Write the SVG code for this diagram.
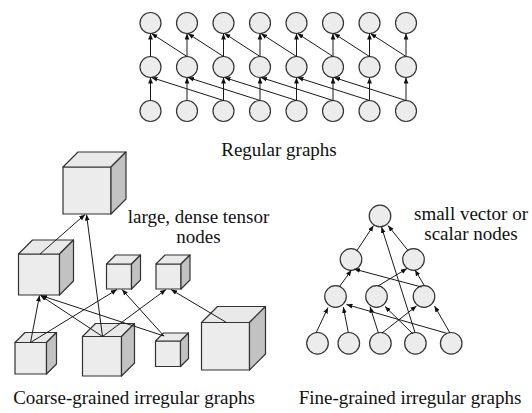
<svg xmlns="http://www.w3.org/2000/svg" width="532" height="413" viewBox="0 0 532 413">
<style>
.n{fill:#ececec;stroke:#333;stroke-width:1.2}
.front{fill:#ececec;stroke:#333;stroke-width:1.2;stroke-linejoin:round}
.top{fill:#e9e9e9;stroke:#333;stroke-width:1.2;stroke-linejoin:round}
.side{fill:#c2c2c2;stroke:#333;stroke-width:1.2;stroke-linejoin:round}
.e line{stroke:#1a1a1a;stroke-width:1;marker-end:url(#ah)}
text{font-family:"Liberation Serif","Times New Roman",serif;font-size:19px;fill:#111;text-anchor:middle}
</style>
<defs>
<marker id="ah" viewBox="0 0 10 8" refX="10" refY="4" markerWidth="6" markerHeight="5" markerUnits="userSpaceOnUse" orient="auto"><path d="M0,0 L10,4 L0,8 z" fill="#111"/></marker>
</defs>

<!-- Regular graph nodes -->
<g id="regular-nodes">
<g id="r-t0"><circle class="n" cx="150.5" cy="23" r="10.5"/></g>
<g id="r-t1"><circle class="n" cx="187" cy="23" r="10.5"/></g>
<g id="r-t2"><circle class="n" cx="223.5" cy="23" r="10.5"/></g>
<g id="r-t3"><circle class="n" cx="260" cy="23" r="10.5"/></g>
<g id="r-t4"><circle class="n" cx="296.5" cy="23" r="10.5"/></g>
<g id="r-t5"><circle class="n" cx="333" cy="23" r="10.5"/></g>
<g id="r-t6"><circle class="n" cx="369.5" cy="23" r="10.5"/></g>
<g id="r-t7"><circle class="n" cx="406" cy="23" r="10.5"/></g>
<g id="r-m0"><circle class="n" cx="150.5" cy="67" r="10.5"/></g>
<g id="r-m1"><circle class="n" cx="187" cy="67" r="10.5"/></g>
<g id="r-m2"><circle class="n" cx="223.5" cy="67" r="10.5"/></g>
<g id="r-m3"><circle class="n" cx="260" cy="67" r="10.5"/></g>
<g id="r-m4"><circle class="n" cx="296.5" cy="67" r="10.5"/></g>
<g id="r-m5"><circle class="n" cx="333" cy="67" r="10.5"/></g>
<g id="r-m6"><circle class="n" cx="369.5" cy="67" r="10.5"/></g>
<g id="r-m7"><circle class="n" cx="406" cy="67" r="10.5"/></g>
<g id="r-b0"><circle class="n" cx="150.5" cy="111" r="10.5"/></g>
<g id="r-b1"><circle class="n" cx="187" cy="111" r="10.5"/></g>
<g id="r-b2"><circle class="n" cx="223.5" cy="111" r="10.5"/></g>
<g id="r-b3"><circle class="n" cx="260" cy="111" r="10.5"/></g>
<g id="r-b4"><circle class="n" cx="296.5" cy="111" r="10.5"/></g>
<g id="r-b5"><circle class="n" cx="333" cy="111" r="10.5"/></g>
<g id="r-b6"><circle class="n" cx="369.5" cy="111" r="10.5"/></g>
<g id="r-b7"><circle class="n" cx="406" cy="111" r="10.5"/></g>
</g>

<!-- Coarse-grained cubes -->
<g id="cube-A">
<rect class="front" x="63" y="167" width="48" height="47"/>
<polygon class="top" points="63,167 78,152 126,152 111,167"/>
<polygon class="side" points="111,167 126,152 126,199 111,214"/>
</g>
<g id="cube-B">
<rect class="front" x="18.5" y="254" width="41" height="41"/>
<polygon class="top" points="18.5,254 32.5,240 73.5,240 59.5,254"/>
<polygon class="side" points="59.5,254 73.5,240 73.5,281 59.5,295"/>
</g>
<g id="cube-C">
<rect class="front" x="106.5" y="264" width="25" height="25"/>
<polygon class="top" points="106.5,264 115.5,255 140.5,255 131.5,264"/>
<polygon class="side" points="131.5,264 140.5,255 140.5,280 131.5,289"/>
</g>
<g id="cube-D">
<rect class="front" x="156" y="264" width="25" height="25"/>
<polygon class="top" points="156,264 165,255 190,255 181,264"/>
<polygon class="side" points="181,264 190,255 190,280 181,289"/>
</g>
<g id="cube-E">
<rect class="front" x="201.5" y="322.5" width="48" height="47.5"/>
<polygon class="top" points="201.5,322.5 217.5,306.5 265.5,306.5 249.5,322.5"/>
<polygon class="side" points="249.5,322.5 265.5,306.5 265.5,354 249.5,370"/>
</g>
<g id="cube-F">
<rect class="front" x="15" y="342.5" width="31.5" height="31.5"/>
<polygon class="top" points="15,342.5 25,332.5 56.5,332.5 46.5,342.5"/>
<polygon class="side" points="46.5,342.5 56.5,332.5 56.5,364 46.5,374"/>
</g>
<g id="cube-G">
<rect class="front" x="82.5" y="336.5" width="39" height="39.5"/>
<polygon class="top" points="82.5,336.5 95.5,323.5 134.5,323.5 121.5,336.5"/>
<polygon class="side" points="121.5,336.5 134.5,323.5 134.5,363 121.5,376"/>
</g>
<g id="cube-H">
<rect class="front" x="155.5" y="341" width="25" height="25.5"/>
<polygon class="top" points="155.5,341 163.5,333 188.5,333 180.5,341"/>
<polygon class="side" points="180.5,341 188.5,333 188.5,358.5 180.5,366.5"/>
</g>

<!-- Fine-grained nodes -->
<g id="f-top"><circle class="n" cx="380" cy="216" r="10.8"/></g>
<g id="f-l2a"><circle class="n" cx="351" cy="259.5" r="10.8"/></g>
<g id="f-l2b"><circle class="n" cx="413.5" cy="259.5" r="10.8"/></g>
<g id="f-l3a"><circle class="n" cx="335.5" cy="296.5" r="10.8"/></g>
<g id="f-l3b"><circle class="n" cx="376.5" cy="296.5" r="10.8"/></g>
<g id="f-l3c"><circle class="n" cx="424" cy="296.5" r="10.8"/></g>
<g id="f-b0"><circle class="n" cx="317.5" cy="343.3" r="10.8"/></g>
<g id="f-b1"><circle class="n" cx="348.8" cy="343.3" r="10.8"/></g>
<g id="f-b2"><circle class="n" cx="380.4" cy="343.3" r="10.8"/></g>
<g id="f-b3"><circle class="n" cx="415.4" cy="343.3" r="10.8"/></g>
<g id="f-b4"><circle class="n" cx="451.2" cy="343.3" r="10.8"/></g>

<!-- Connectors -->
<g id="connectors" class="e">
<line x1="150.5" y1="100.5" x2="150.5" y2="77.5"/>
<line x1="187" y1="100.5" x2="187" y2="77.5"/>
<line x1="223.5" y1="100.5" x2="223.5" y2="77.5"/>
<line x1="260" y1="100.5" x2="260" y2="77.5"/>
<line x1="296.5" y1="100.5" x2="296.5" y2="77.5"/>
<line x1="333" y1="100.5" x2="333" y2="77.5"/>
<line x1="369.5" y1="100.5" x2="369.5" y2="77.5"/>
<line x1="406" y1="100.5" x2="406" y2="77.5"/>
<line x1="150.5" y1="56.5" x2="150.5" y2="33.5"/>
<line x1="187" y1="56.5" x2="187" y2="33.5"/>
<line x1="223.5" y1="56.5" x2="223.5" y2="33.5"/>
<line x1="260" y1="56.5" x2="260" y2="33.5"/>
<line x1="296.5" y1="56.5" x2="296.5" y2="33.5"/>
<line x1="333" y1="56.5" x2="333" y2="33.5"/>
<line x1="369.5" y1="56.5" x2="369.5" y2="33.5"/>
<line x1="406" y1="56.5" x2="406" y2="33.5"/>
<line x1="223.5" y1="100.5" x2="151.5" y2="77.5"/>
<line x1="260" y1="100.5" x2="188" y2="77.5"/>
<line x1="296.5" y1="100.5" x2="224.5" y2="77.5"/>
<line x1="333" y1="100.5" x2="261" y2="77.5"/>
<line x1="369.5" y1="100.5" x2="297.5" y2="77.5"/>
<line x1="406" y1="100.5" x2="334" y2="77.5"/>
<line x1="187" y1="56.5" x2="151.5" y2="33.5"/>
<line x1="223.5" y1="56.5" x2="188" y2="33.5"/>
<line x1="260" y1="56.5" x2="224.5" y2="33.5"/>
<line x1="296.5" y1="56.5" x2="261" y2="33.5"/>
<line x1="333" y1="56.5" x2="297.5" y2="33.5"/>
<line x1="369.5" y1="56.5" x2="334" y2="33.5"/>
<line x1="406" y1="56.5" x2="370.5" y2="33.5"/>
<line x1="40" y1="254" x2="85" y2="214.5"/>
<line x1="102.5" y1="336.5" x2="86.5" y2="214.5"/>
<line x1="30.5" y1="342.5" x2="39.5" y2="295.5"/>
<line x1="102.5" y1="336.5" x2="40.5" y2="295.5"/>
<line x1="164" y1="336" x2="41" y2="295.5"/>
<line x1="30.5" y1="342.5" x2="117" y2="289.5"/>
<line x1="164" y1="336" x2="122" y2="289.5"/>
<line x1="102.5" y1="336.5" x2="166" y2="289.5"/>
<line x1="226.5" y1="322.5" x2="171" y2="289.5"/>
<line x1="357" y1="250.5" x2="373.5" y2="225.5"/>
<line x1="408" y1="250.5" x2="388" y2="225.5"/>
<line x1="415" y1="332.5" x2="381.5" y2="227"/>
<line x1="339.5" y1="286.5" x2="351.5" y2="270"/>
<line x1="421.5" y1="287" x2="354" y2="269"/>
<line x1="378" y1="286" x2="407" y2="268.5"/>
<line x1="424.5" y1="285.8" x2="415" y2="270"/>
<line x1="316" y1="333" x2="328" y2="307.5"/>
<line x1="348.3" y1="332.5" x2="343.3" y2="307"/>
<line x1="446.7" y1="333.3" x2="346.5" y2="304.5"/>
<line x1="378.3" y1="332.7" x2="370" y2="306.7"/>
<line x1="413" y1="334" x2="385" y2="306.5"/>
<line x1="382" y1="333" x2="416.5" y2="306"/>
<line x1="450" y1="333" x2="434.5" y2="306"/>
</g>

<!-- Labels -->
<g id="labels">
<text x="279" y="156">Regular graphs</text>
<text x="198.5" y="223">large, dense tensor</text>
<text x="198.5" y="243">nodes</text>
<text x="471" y="220">small vector or</text>
<text x="471" y="240">scalar nodes</text>
<text x="134" y="404">Coarse-grained irregular graphs</text>
<text x="410" y="404">Fine-grained irregular graphs</text>
</g>
</svg>
